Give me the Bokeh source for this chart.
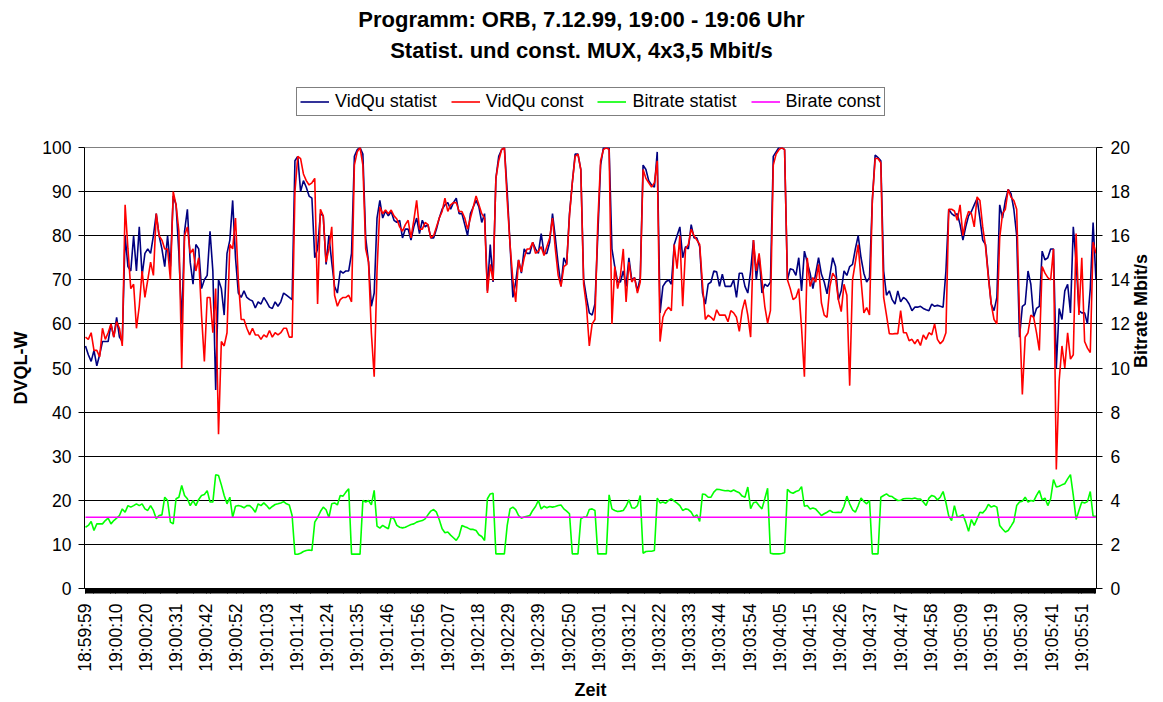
import math
from bokeh.plotting import figure
from bokeh.layouts import column
from bokeh.models import Range1d, LinearAxis, FixedTicker, Legend, LegendItem, Label
from bokeh.embed import file_html
from bokeh.resources import INLINE

# ---------------- data ----------------
TITLE_1 = "Programm: ORB, 7.12.99, 19:00 - 19:06 Uhr"
TITLE_2 = "Statist. und const. MUX, 4x3,5 Mbit/s"
SERIES_NAMES = ["VidQu statist", "VidQu const", "Bitrate statist", "Birate const"]
SERIES_COLORS = ["#000080", "#FF0000", "#00FF00", "#FF00FF"]

TIME_LABELS = ["18:59:59", "19:00:10", "19:00:20", "19:00:31", "19:00:42", "19:00:52",
               "19:01:03", "19:01:14", "19:01:24", "19:01:35", "19:01:46", "19:01:56",
               "19:02:07", "19:02:18", "19:02:29", "19:02:39", "19:02:50", "19:03:01",
               "19:03:12", "19:03:22", "19:03:33", "19:03:44", "19:03:54", "19:04:05",
               "19:04:15", "19:04:26", "19:04:37", "19:04:47", "19:04:58", "19:05:09",
               "19:05:19", "19:05:30", "19:05:41", "19:05:51"]
SAMPLES_PER_SECOND = 3          # category axis: one category per 1/3 s
SAMPLES_PER_LABEL = 32
N_SAMPLES = 1072

# readings taken once per second (seconds after 18:59:59)
seconds = list(range(358))

vidqu_statist = [
    55, 53, 51.5, 54, 50.5, 53, 56, 56, 56, 60,
    57, 61.5, 57, 56, 80, 73, 72, 80, 72, 82,
    71, 76, 77, 76, 80, 85, 80, 77, 73, 80,
    73, 89, 87, 76, 60, 81, 86, 74, 69, 78,
    77, 68, 70, 71, 81, 72, 45, 70, 68, 62,
    76, 79, 88, 75, 67, 66, 67.5, 66, 65.5, 65.2,
    63.6, 65, 64.5, 66, 65, 63.8, 63.5, 65, 64, 65,
    67, 66.5, 66, 65.5, 97, 98, 90, 92.5, 91, 89,
    88.5, 75, 77, 85, 84.5, 73.5, 80, 74, 68.5, 67,
    72, 71.5, 72, 72, 76, 98, 99.5, 100, 98.5, 79.5,
    74, 64, 67, 84, 88, 84, 85.6, 84.5, 85.5, 83.5,
    83, 83.5, 79.5, 81.5, 81.5, 79, 82, 84, 80.5, 83.5,
    82, 82.5, 79.5, 79.5, 81.5, 84, 86, 87, 87.5, 86,
    87.5, 88.5, 85, 85, 82.5, 80, 85, 86.5, 88, 86.5,
    83, 85, 67.5, 78, 69.5, 93, 98, 99.5, 100, 90,
    78, 66, 69.5, 74.5, 71.5, 77, 76, 76, 78.5, 77,
    76, 80.5, 76, 76, 78.5, 85, 79.5, 73.5, 68.5, 75,
    73.5, 85, 92, 98.5, 98.5, 95, 70, 66, 62.5, 62,
    64.5, 80, 96, 100, 100, 100, 77, 73, 69.5, 69.5,
    72, 68.5, 75, 70, 70.5, 67.5, 70.5, 96, 95, 92.5,
    91.5, 91, 99, 62.5, 68.5, 69.5, 70, 69, 78, 80,
    82, 75, 77.5, 77, 82.5, 79.5, 79.5, 77.5, 67, 64.5,
    69, 69.5, 72, 71.8, 68.5, 71.3, 68.5, 68.5, 68.5, 70,
    66, 71.5, 71.5, 68.5, 67, 72, 79, 70, 75.5, 67,
    69, 68.5, 69.5, 98, 99, 100, 100, 99.5, 70, 72.5,
    72.3, 71, 75, 67.5, 76.5, 74, 71.5, 68, 71.5, 75,
    71.3, 69.5, 66.8, 71, 75, 73, 65.5, 67.5, 72, 71,
    73, 73.5, 77, 80, 75, 71.5, 69.5, 70.5, 88, 98.3,
    97.7, 97, 72, 66.5, 67.5, 65.5, 64.5, 67.5, 65, 66,
    65.5, 64.5, 63, 63.8, 63.8, 64, 63.5, 63.2, 63, 64.5,
    64, 64.2, 64, 63.8, 72, 86, 85, 84.5, 85, 82.5,
    79, 82, 84.5, 85.5, 87, 88.4, 84, 79, 78, 71,
    64.5, 63, 66, 87, 84, 88, 90.5, 89.5, 86, 80,
    57, 64, 64.5, 72, 69, 61.5, 63.5, 64, 76.5, 74.5,
    75, 77, 77, 50, 63.5, 61, 67.5, 69, 62.5, 82,
    74, 63, 62.5, 62.5, 60, 68, 83, 70]

vidqu_const = [
    57, 56.5, 58, 54, 54, 52.5, 59, 56.5, 58, 60,
    57, 60.5, 59, 55, 87, 77, 68, 69, 59, 64,
    72, 66, 70, 74, 71, 85, 80, 79, 77, 77,
    70, 90, 87, 81, 50, 80, 82, 76, 77, 72,
    75, 62, 51.5, 66, 66, 58, 68, 35, 56, 55,
    58, 78, 77, 84, 70, 61, 61, 59, 57.5, 59,
    57.5, 57.5, 56.5, 57.5, 57, 58.5, 57, 58, 57.5, 58,
    59, 59, 57, 57, 90, 98, 97.5, 94, 92.5, 91.5,
    92, 93, 64.5, 86, 84.5, 74, 77, 82, 66.5, 64,
    65.5, 66, 66, 66.5, 65, 96, 99, 100, 96, 77,
    74, 58, 48, 72, 86.5, 85, 85.8, 85, 85.8, 84.5,
    83.8, 82, 81, 82.5, 83.5, 79.5, 83.5, 88, 81.5, 81.5,
    83, 82.5, 79.5, 80, 82, 84, 85.5, 88.5, 85.5, 87,
    87.5, 87.5, 85.5, 85.5, 84, 81.5, 84, 86.5, 89, 87,
    85, 84, 67, 73.5, 69.8, 93, 97, 99.5, 100, 88,
    78, 70, 65, 74.5, 71.8, 75, 77, 77, 78.5, 76,
    76.5, 77.5, 75.5, 77.5, 79.5, 84, 77, 71, 68.5, 73,
    73.5, 84.5, 92, 98, 98.5, 95, 69, 64, 55, 60,
    61, 83, 97, 99.5, 100, 99.5, 60, 73, 68, 71,
    77, 65, 74, 69.5, 70.5, 67, 69.5, 95, 93, 92,
    91, 92, 97, 56, 61.5, 63, 63.8, 63, 78, 72.5,
    80, 64, 77, 78, 81.5, 80, 79, 78, 69, 61,
    62, 61.5, 60.8, 63.2, 62, 62, 62, 60.5, 63, 62.5,
    61.5, 58.3, 63, 65.5, 62, 57, 79, 72, 76, 70,
    64, 60.2, 63, 96, 98.5, 99.5, 100, 99.5, 70, 68,
    65.5, 66, 68, 59, 48, 75, 68.5, 70.5, 69.5, 73.5,
    64.8, 62, 61.5, 68.5, 71.5, 70.5, 65.5, 62.8, 69, 66.5,
    46, 70, 74, 78, 70, 62.5, 63.7, 62, 88, 97.5,
    97.5, 96.5, 66, 62, 57.8, 57.7, 57.8, 57.8, 63, 58,
    58, 56.2, 56.5, 55.5, 56.5, 55.1, 57.5, 56.5, 58, 57.5,
    60, 56.5, 55.5, 56.2, 58, 86, 86, 85.6, 83.5, 87,
    80, 83.5, 85.5, 85, 82, 88.8, 88, 82, 77.5, 70.5,
    64.5, 61, 60, 79.5, 85, 86, 90.5, 88.7, 88, 86,
    62, 44, 57, 58, 62, 61.5, 58, 54, 73, 71.5,
    70.5, 70, 77, 27, 47, 55, 50, 58, 52, 53,
    80.5, 62, 75, 56, 54.5, 53.5, 78.5, 76]

bitrate_statist = [
    2.78, 2.86, 3.04, 2.63, 2.93, 2.93, 2.93, 3.08, 3.19, 2.93,
    3.08, 3.19, 3.31, 3.61, 3.46, 3.76, 3.69, 3.76, 3.84, 3.76,
    3.84, 3.61, 3.54, 3.76, 3.54, 3.16, 3.31, 3.34, 4.14, 3.99,
    3.01, 2.93, 4.07, 4.14, 4.67, 4.22, 4.07, 3.76, 3.99, 3.76,
    4.04, 4.22, 4.26, 4.44, 3.92, 3.92, 5.16, 5.12, 4.70, 4.22,
    3.84, 4.14, 3.23, 3.73, 3.76, 3.73, 3.66, 3.76, 3.76, 3.64,
    3.46, 3.84, 3.76, 3.88, 3.76, 3.61, 3.72, 3.81, 3.84, 3.88,
    3.94, 3.84, 3.79, 3.31, 1.56, 1.55, 1.60, 1.68, 1.72, 1.75,
    1.72, 3.01, 3.22, 3.49, 3.69, 3.57, 3.22, 3.84, 3.88, 3.79,
    4.22, 4.19, 4.37, 4.52, 1.56, 1.56, 1.56, 1.56, 3.99, 3.92,
    3.99, 3.79, 4.45, 2.83, 2.74, 2.86, 2.78, 2.71, 3.24, 3.16,
    2.86, 2.78, 2.75, 2.78, 2.84, 2.90, 2.93, 3.01, 3.05, 3.08,
    3.16, 3.34, 3.51, 3.58, 3.46, 3.12, 2.71, 2.53, 2.56, 2.42,
    2.30, 2.18, 2.39, 2.86, 2.80, 2.75, 2.68, 2.68, 2.63, 2.44,
    2.36, 2.18, 4.07, 4.29, 4.32, 1.57, 1.57, 1.57, 1.57, 2.86,
    3.61, 3.69, 3.58, 3.31, 3.19, 3.24, 3.28, 3.31, 3.54, 3.72,
    3.99, 3.61, 3.73, 3.66, 3.72, 3.69, 3.72, 3.76, 3.79, 3.61,
    3.51, 3.39, 1.57, 1.57, 1.57, 3.16, 3.24, 3.24, 3.58, 3.61,
    3.54, 1.57, 1.57, 1.57, 1.57, 4.25, 3.61, 3.54, 3.49, 3.51,
    3.54, 3.73, 4.02, 3.66, 3.64, 3.76, 4.22, 1.60, 1.68, 1.69,
    1.69, 1.72, 4.10, 3.88, 3.92, 3.87, 3.99, 4.07, 3.96, 3.87,
    3.76, 3.54, 3.61, 3.58, 3.46, 3.24, 3.34, 3.04, 4.29, 4.26,
    4.14, 4.14, 4.37, 4.50, 4.49, 4.46, 4.43, 4.44, 4.40, 4.47,
    4.40, 4.34, 4.19, 4.14, 4.60, 3.62, 3.89, 3.92, 3.75, 3.61,
    4.07, 4.55, 1.60, 1.57, 1.57, 1.57, 1.59, 1.62, 4.50, 4.37,
    4.32, 4.40, 4.44, 4.62, 3.73, 3.76, 3.61, 3.65, 3.60, 3.46,
    3.31, 3.39, 3.46, 3.54, 3.46, 3.45, 3.46, 3.45, 3.73, 4.19,
    3.84, 3.57, 3.46, 3.76, 4.10, 3.95, 3.84, 3.99, 1.57, 1.57,
    1.57, 4.14, 4.22, 4.29, 4.19, 4.17, 4.07, 3.99, 4.00, 4.07,
    4.08, 4.08, 4.07, 4.10, 4.06, 4.06, 3.92, 3.76, 4.10, 4.22,
    4.17, 4.02, 4.14, 4.40, 3.90, 3.28, 3.08, 3.76, 3.24, 3.27,
    3.35, 3.01, 2.59, 3.13, 2.86, 3.16, 3.46, 3.43, 3.57, 3.82,
    3.69, 3.75, 3.69, 2.86, 2.70, 2.56, 2.63, 2.83, 3.04, 3.76,
    3.92, 3.96, 4.14, 3.92, 3.99, 3.96, 4.22, 4.44, 4.02, 4.10,
    3.76, 4.07, 4.94, 4.60, 4.64, 4.70, 4.75, 4.97, 5.16, 4.22,
    3.13, 3.54, 3.92, 3.88, 3.94, 4.40, 3.28, 3.28]

BIRATE_CONST = 3.23
birate_const = [BIRATE_CONST for _ in seconds]

# category index of each reading (3 categories per second)
x_idx = [s * SAMPLES_PER_SECOND for s in seconds]

FONT = "Liberation Sans"
W = 1163
HEAD_H = 137
MAIN_H = 565
FRAME_LEFT = 84          # the column aligns the header frame with the chart frame

# ---------------- header: title + legend ----------------
head = figure(width=W, height=HEAD_H, output_backend="svg", toolbar_location=None,
              x_range=Range1d(0, 1), y_range=Range1d(0, 1),
              x_axis_location=None, y_axis_location=None,
              min_border_left=0, min_border_right=0, min_border_top=0, min_border_bottom=0,
              background_fill_color="white", border_fill_color="white")
head.outline_line_color = None
head.grid.visible = False
for txt, yy in ((TITLE_1, HEAD_H - 19), (TITLE_2, HEAD_H - 50)):
    head.add_layout(Label(x=581 - FRAME_LEFT, y=yy, x_units="screen", y_units="screen", text=txt,
                          text_align="center", text_baseline="middle",
                          text_font=FONT, text_font_style="bold", text_font_size="22px",
                          text_color="black"))
# legend keys (invisible proxies carrying the series' line styles)
key_renderers = [head.line([0, 1], [float("nan"), float("nan")], line_color=c, line_width=1.6)
                 for c in SERIES_COLORS]
legend = Legend(items=[LegendItem(label=n, renderers=[r]) for n, r in zip(SERIES_NAMES, key_renderers)],
                orientation="horizontal", location=(296 - FRAME_LEFT, HEAD_H - 116),
                label_text_font=FONT, label_text_font_size="18px", label_text_color="black",
                glyph_width=29, glyph_height=17, label_height=17, label_standoff=6,
                spacing=14, padding=3, margin=0,
                border_line_color="black", border_line_width=1,
                background_fill_color="white", background_fill_alpha=1.0)
head.add_layout(legend)

# ---------------- main chart ----------------
p = figure(width=W, height=MAIN_H, output_backend="svg", toolbar_location=None,
           x_range=Range1d(-1.05, 1071.6), y_range=Range1d(0, 100),
           min_border_left=FRAME_LEFT, min_border_right=65, min_border_top=10, min_border_bottom=114,
           background_fill_color="white", border_fill_color="white")
p.extra_y_ranges = {"mbit": Range1d(0, 20)}
p.outline_line_color = "#808080"
p.xgrid.visible = False
p.ygrid.ticker = FixedTicker(ticks=list(range(10, 100, 10)))
p.ygrid.grid_line_color = "black"
p.ygrid.grid_line_width = 1

# x axis (category axis)
major = [i * SAMPLES_PER_LABEL for i in range(len(TIME_LABELS))]
minor = list(range(0, N_SAMPLES))
xa = p.xaxis[0]
xa.ticker = FixedTicker(ticks=major, minor_ticks=minor)
xa.major_label_overrides = {m: lab for m, lab in zip(major, TIME_LABELS)}
xa.major_label_orientation = math.pi / 2
xa.major_label_standoff = 10
xa.major_tick_out = 5
xa.major_tick_in = 0
xa.minor_tick_out = 5
xa.minor_tick_in = 0
xa.axis_label = "Zeit"
xa.axis_label_standoff = 5

# left axis
ya = p.yaxis[0]
ya.ticker = FixedTicker(ticks=list(range(0, 101, 10)))
ya.axis_label = "DVQL-W"
ya.major_tick_out = 6
ya.major_tick_in = 0
ya.minor_tick_out = 0
ya.minor_tick_in = 0
ya.major_label_standoff = 7
ya.axis_label_standoff = 8

# right axis
ra = LinearAxis(y_range_name="mbit", ticker=FixedTicker(ticks=list(range(0, 21, 2))),
                axis_label="Bitrate Mbit/s")
ra.major_tick_out = 6
ra.major_tick_in = 0
ra.minor_tick_out = 0
ra.minor_tick_in = 0
ra.major_label_standoff = 8
ra.axis_label_standoff = 8
try:
    ra.axis_label_orientation = math.pi / 2
except Exception:
    pass
p.add_layout(ra, "right")

for ax in (xa, ya, ra):
    ax.axis_line_color = "black"
    ax.major_tick_line_color = "black"
    ax.minor_tick_line_color = "black"
    ax.major_label_text_font = FONT
    ax.major_label_text_font_size = "17.5px"
    ax.major_label_text_color = "black"
    ax.axis_label_text_font = FONT
    ax.axis_label_text_font_size = "18px"
    ax.axis_label_text_font_style = "bold"
    ax.axis_label_text_color = "black"

# series
p.line(x_idx, vidqu_statist, line_color=SERIES_COLORS[0], line_width=1.6)
p.line(x_idx, vidqu_const, line_color=SERIES_COLORS[1], line_width=1.6)
p.line(x_idx, bitrate_statist, line_color=SERIES_COLORS[2], line_width=1.6, y_range_name="mbit")
p.line(x_idx, birate_const, line_color=SERIES_COLORS[3], line_width=1.4, y_range_name="mbit")

layout = column(head, p, spacing=0)
open("out.html", "w").write(file_html(layout, INLINE))
